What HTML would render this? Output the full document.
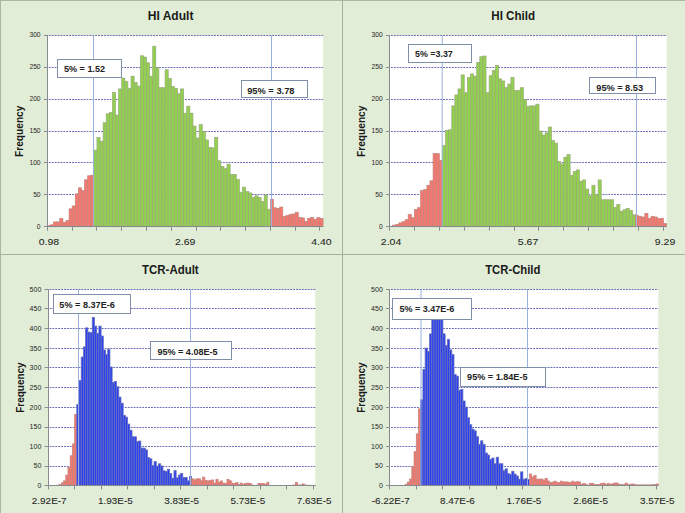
<!DOCTYPE html>
<html><head><meta charset="utf-8"><style>
html,body{margin:0;padding:0;background:#e1edd6;}
svg{display:block;font-family:"Liberation Sans", sans-serif;}
</style></head><body>
<svg width="685" height="513" viewBox="0 0 685 513">
<rect x="0" y="0" width="685" height="513" fill="#e1edd6"/>
<rect x="47.40" y="35.50" width="275.63" height="191.20" fill="#fff"/>
<line x1="45.90" y1="194.50" x2="323.03" y2="194.50" stroke="#6a6db8" stroke-width="1" stroke-dasharray="1.9 1"/>
<line x1="45.90" y1="162.50" x2="323.03" y2="162.50" stroke="#6a6db8" stroke-width="1" stroke-dasharray="1.9 1"/>
<line x1="45.90" y1="131.50" x2="323.03" y2="131.50" stroke="#6a6db8" stroke-width="1" stroke-dasharray="1.9 1"/>
<line x1="45.90" y1="99.50" x2="323.03" y2="99.50" stroke="#6a6db8" stroke-width="1" stroke-dasharray="1.9 1"/>
<line x1="45.90" y1="67.50" x2="323.03" y2="67.50" stroke="#6a6db8" stroke-width="1" stroke-dasharray="1.9 1"/>
<line x1="45.90" y1="35.50" x2="323.03" y2="35.50" stroke="#6a6db8" stroke-width="1" stroke-dasharray="1.9 1"/>
<rect x="47.40" y="225.42" width="3.10" height="1.28" fill="#f47870" stroke="#c0857c" stroke-width="0.7"/>
<rect x="50.50" y="224.79" width="3.10" height="1.91" fill="#f47870" stroke="#c0857c" stroke-width="0.7"/>
<rect x="53.59" y="221.92" width="3.10" height="4.78" fill="#f47870" stroke="#c0857c" stroke-width="0.7"/>
<rect x="56.69" y="221.92" width="3.10" height="4.78" fill="#f47870" stroke="#c0857c" stroke-width="0.7"/>
<rect x="59.79" y="218.41" width="3.10" height="8.29" fill="#f47870" stroke="#c0857c" stroke-width="0.7"/>
<rect x="62.88" y="222.24" width="3.10" height="4.46" fill="#f47870" stroke="#c0857c" stroke-width="0.7"/>
<rect x="65.98" y="220.58" width="3.10" height="6.12" fill="#f47870" stroke="#c0857c" stroke-width="0.7"/>
<rect x="69.08" y="208.84" width="3.10" height="17.86" fill="#f47870" stroke="#c0857c" stroke-width="0.7"/>
<rect x="72.18" y="205.91" width="3.10" height="20.79" fill="#f47870" stroke="#c0857c" stroke-width="0.7"/>
<rect x="75.27" y="193.85" width="3.10" height="32.85" fill="#f47870" stroke="#c0857c" stroke-width="0.7"/>
<rect x="78.37" y="187.79" width="3.10" height="38.91" fill="#f47870" stroke="#c0857c" stroke-width="0.7"/>
<rect x="81.47" y="190.60" width="3.10" height="36.10" fill="#f47870" stroke="#c0857c" stroke-width="0.7"/>
<rect x="84.56" y="179.76" width="3.10" height="46.94" fill="#f47870" stroke="#c0857c" stroke-width="0.7"/>
<rect x="87.66" y="175.80" width="3.10" height="50.90" fill="#f47870" stroke="#c0857c" stroke-width="0.7"/>
<rect x="90.76" y="175.17" width="3.10" height="51.53" fill="#f47870" stroke="#c0857c" stroke-width="0.7"/>
<rect x="93.85" y="150.16" width="3.10" height="76.54" fill="#92d050" stroke="#9aa878" stroke-width="0.7"/>
<rect x="96.95" y="137.41" width="3.10" height="89.29" fill="#92d050" stroke="#9aa878" stroke-width="0.7"/>
<rect x="100.05" y="141.23" width="3.10" height="85.47" fill="#92d050" stroke="#9aa878" stroke-width="0.7"/>
<rect x="103.15" y="122.74" width="3.10" height="103.96" fill="#92d050" stroke="#9aa878" stroke-width="0.7"/>
<rect x="106.24" y="113.81" width="3.10" height="112.89" fill="#92d050" stroke="#9aa878" stroke-width="0.7"/>
<rect x="109.34" y="112.53" width="3.10" height="114.17" fill="#92d050" stroke="#9aa878" stroke-width="0.7"/>
<rect x="112.44" y="92.38" width="3.10" height="134.32" fill="#92d050" stroke="#9aa878" stroke-width="0.7"/>
<rect x="115.53" y="115.08" width="3.10" height="111.62" fill="#92d050" stroke="#9aa878" stroke-width="0.7"/>
<rect x="118.63" y="88.94" width="3.10" height="137.76" fill="#92d050" stroke="#9aa878" stroke-width="0.7"/>
<rect x="121.73" y="78.09" width="3.10" height="148.61" fill="#92d050" stroke="#9aa878" stroke-width="0.7"/>
<rect x="124.82" y="81.28" width="3.10" height="145.42" fill="#92d050" stroke="#9aa878" stroke-width="0.7"/>
<rect x="127.92" y="88.30" width="3.10" height="138.40" fill="#92d050" stroke="#9aa878" stroke-width="0.7"/>
<rect x="131.02" y="76.18" width="3.10" height="150.52" fill="#92d050" stroke="#9aa878" stroke-width="0.7"/>
<rect x="134.12" y="82.56" width="3.10" height="144.14" fill="#92d050" stroke="#9aa878" stroke-width="0.7"/>
<rect x="137.21" y="86.07" width="3.10" height="140.63" fill="#92d050" stroke="#9aa878" stroke-width="0.7"/>
<rect x="140.31" y="55.77" width="3.10" height="170.93" fill="#92d050" stroke="#9aa878" stroke-width="0.7"/>
<rect x="143.41" y="57.05" width="3.10" height="169.65" fill="#92d050" stroke="#9aa878" stroke-width="0.7"/>
<rect x="146.50" y="62.79" width="3.10" height="163.91" fill="#92d050" stroke="#9aa878" stroke-width="0.7"/>
<rect x="149.60" y="76.18" width="3.10" height="150.52" fill="#92d050" stroke="#9aa878" stroke-width="0.7"/>
<rect x="152.70" y="46.20" width="3.10" height="180.50" fill="#92d050" stroke="#9aa878" stroke-width="0.7"/>
<rect x="155.79" y="67.89" width="3.10" height="158.81" fill="#92d050" stroke="#9aa878" stroke-width="0.7"/>
<rect x="158.89" y="87.66" width="3.10" height="139.04" fill="#92d050" stroke="#9aa878" stroke-width="0.7"/>
<rect x="161.99" y="87.66" width="3.10" height="139.04" fill="#92d050" stroke="#9aa878" stroke-width="0.7"/>
<rect x="165.09" y="69.80" width="3.10" height="156.90" fill="#92d050" stroke="#9aa878" stroke-width="0.7"/>
<rect x="168.18" y="78.48" width="3.10" height="148.22" fill="#92d050" stroke="#9aa878" stroke-width="0.7"/>
<rect x="171.28" y="86.38" width="3.10" height="140.32" fill="#92d050" stroke="#9aa878" stroke-width="0.7"/>
<rect x="174.38" y="88.30" width="3.10" height="138.40" fill="#92d050" stroke="#9aa878" stroke-width="0.7"/>
<rect x="177.47" y="93.72" width="3.10" height="132.98" fill="#92d050" stroke="#9aa878" stroke-width="0.7"/>
<rect x="180.57" y="88.94" width="3.10" height="137.76" fill="#92d050" stroke="#9aa878" stroke-width="0.7"/>
<rect x="183.67" y="113.17" width="3.10" height="113.53" fill="#92d050" stroke="#9aa878" stroke-width="0.7"/>
<rect x="186.77" y="106.16" width="3.10" height="120.54" fill="#92d050" stroke="#9aa878" stroke-width="0.7"/>
<rect x="189.86" y="113.17" width="3.10" height="113.53" fill="#92d050" stroke="#9aa878" stroke-width="0.7"/>
<rect x="192.96" y="126.12" width="3.10" height="100.58" fill="#92d050" stroke="#9aa878" stroke-width="0.7"/>
<rect x="196.06" y="138.05" width="3.10" height="88.65" fill="#92d050" stroke="#9aa878" stroke-width="0.7"/>
<rect x="199.15" y="124.65" width="3.10" height="102.05" fill="#92d050" stroke="#9aa878" stroke-width="0.7"/>
<rect x="202.25" y="131.67" width="3.10" height="95.03" fill="#92d050" stroke="#9aa878" stroke-width="0.7"/>
<rect x="205.35" y="139.96" width="3.10" height="86.74" fill="#92d050" stroke="#9aa878" stroke-width="0.7"/>
<rect x="208.44" y="147.36" width="3.10" height="79.34" fill="#92d050" stroke="#9aa878" stroke-width="0.7"/>
<rect x="211.54" y="147.87" width="3.10" height="78.83" fill="#92d050" stroke="#9aa878" stroke-width="0.7"/>
<rect x="214.64" y="137.41" width="3.10" height="89.29" fill="#92d050" stroke="#9aa878" stroke-width="0.7"/>
<rect x="217.74" y="160.75" width="3.10" height="65.95" fill="#92d050" stroke="#9aa878" stroke-width="0.7"/>
<rect x="220.83" y="166.43" width="3.10" height="60.27" fill="#92d050" stroke="#9aa878" stroke-width="0.7"/>
<rect x="223.93" y="168.66" width="3.10" height="58.04" fill="#92d050" stroke="#9aa878" stroke-width="0.7"/>
<rect x="227.03" y="164.20" width="3.10" height="62.50" fill="#92d050" stroke="#9aa878" stroke-width="0.7"/>
<rect x="230.12" y="174.40" width="3.10" height="52.30" fill="#92d050" stroke="#9aa878" stroke-width="0.7"/>
<rect x="233.22" y="174.40" width="3.10" height="52.30" fill="#92d050" stroke="#9aa878" stroke-width="0.7"/>
<rect x="236.32" y="179.50" width="3.10" height="47.20" fill="#92d050" stroke="#9aa878" stroke-width="0.7"/>
<rect x="239.41" y="192.26" width="3.10" height="34.44" fill="#92d050" stroke="#9aa878" stroke-width="0.7"/>
<rect x="242.51" y="187.16" width="3.10" height="39.54" fill="#92d050" stroke="#9aa878" stroke-width="0.7"/>
<rect x="245.61" y="191.62" width="3.10" height="35.08" fill="#92d050" stroke="#9aa878" stroke-width="0.7"/>
<rect x="248.71" y="192.90" width="3.10" height="33.80" fill="#92d050" stroke="#9aa878" stroke-width="0.7"/>
<rect x="251.80" y="197.36" width="3.10" height="29.34" fill="#92d050" stroke="#9aa878" stroke-width="0.7"/>
<rect x="254.90" y="195.77" width="3.10" height="30.93" fill="#92d050" stroke="#9aa878" stroke-width="0.7"/>
<rect x="258.00" y="197.36" width="3.10" height="29.34" fill="#92d050" stroke="#9aa878" stroke-width="0.7"/>
<rect x="261.09" y="201.51" width="3.10" height="25.19" fill="#92d050" stroke="#9aa878" stroke-width="0.7"/>
<rect x="264.19" y="195.07" width="3.10" height="31.63" fill="#92d050" stroke="#9aa878" stroke-width="0.7"/>
<rect x="267.29" y="209.29" width="3.10" height="17.41" fill="#92d050" stroke="#9aa878" stroke-width="0.7"/>
<rect x="270.38" y="199.27" width="3.10" height="27.43" fill="#f47870" stroke="#c0857c" stroke-width="0.7"/>
<rect x="273.48" y="207.76" width="3.10" height="18.94" fill="#f47870" stroke="#c0857c" stroke-width="0.7"/>
<rect x="276.58" y="208.52" width="3.10" height="18.18" fill="#f47870" stroke="#c0857c" stroke-width="0.7"/>
<rect x="279.68" y="207.06" width="3.10" height="19.64" fill="#f47870" stroke="#c0857c" stroke-width="0.7"/>
<rect x="282.77" y="216.62" width="3.10" height="10.08" fill="#f47870" stroke="#c0857c" stroke-width="0.7"/>
<rect x="285.87" y="215.41" width="3.10" height="11.29" fill="#f47870" stroke="#c0857c" stroke-width="0.7"/>
<rect x="288.97" y="214.58" width="3.10" height="12.12" fill="#f47870" stroke="#c0857c" stroke-width="0.7"/>
<rect x="292.06" y="213.94" width="3.10" height="12.76" fill="#f47870" stroke="#c0857c" stroke-width="0.7"/>
<rect x="295.16" y="212.29" width="3.10" height="14.41" fill="#f47870" stroke="#c0857c" stroke-width="0.7"/>
<rect x="298.26" y="217.39" width="3.10" height="9.31" fill="#f47870" stroke="#c0857c" stroke-width="0.7"/>
<rect x="301.35" y="217.90" width="3.10" height="8.80" fill="#f47870" stroke="#c0857c" stroke-width="0.7"/>
<rect x="304.45" y="221.28" width="3.10" height="5.42" fill="#f47870" stroke="#c0857c" stroke-width="0.7"/>
<rect x="307.55" y="218.41" width="3.10" height="8.29" fill="#f47870" stroke="#c0857c" stroke-width="0.7"/>
<rect x="310.64" y="217.58" width="3.10" height="9.12" fill="#f47870" stroke="#c0857c" stroke-width="0.7"/>
<rect x="313.74" y="219.37" width="3.10" height="7.33" fill="#f47870" stroke="#c0857c" stroke-width="0.7"/>
<rect x="316.84" y="217.58" width="3.10" height="9.12" fill="#f47870" stroke="#c0857c" stroke-width="0.7"/>
<rect x="319.94" y="218.41" width="3.10" height="8.29" fill="#f47870" stroke="#c0857c" stroke-width="0.7"/>
<line x1="47.50" y1="35.50" x2="47.50" y2="226.50" stroke="#888a92" stroke-width="1"/>
<line x1="47.50" y1="226.50" x2="323.03" y2="226.50" stroke="#888a92" stroke-width="1"/>
<line x1="43.90" y1="226.50" x2="47.40" y2="226.50" stroke="#888a92" stroke-width="1"/>
<text x="40.60" y="229.30" font-size="6.7" text-anchor="end" fill="#262626">0</text>
<line x1="43.90" y1="194.50" x2="47.40" y2="194.50" stroke="#888a92" stroke-width="1"/>
<text x="40.60" y="197.30" font-size="6.7" text-anchor="end" fill="#262626">50</text>
<line x1="43.90" y1="162.50" x2="47.40" y2="162.50" stroke="#888a92" stroke-width="1"/>
<text x="40.60" y="165.30" font-size="6.7" text-anchor="end" fill="#262626">100</text>
<line x1="43.90" y1="131.50" x2="47.40" y2="131.50" stroke="#888a92" stroke-width="1"/>
<text x="40.60" y="133.30" font-size="6.7" text-anchor="end" fill="#262626">150</text>
<line x1="43.90" y1="99.50" x2="47.40" y2="99.50" stroke="#888a92" stroke-width="1"/>
<text x="40.60" y="101.30" font-size="6.7" text-anchor="end" fill="#262626">200</text>
<line x1="43.90" y1="67.50" x2="47.40" y2="67.50" stroke="#888a92" stroke-width="1"/>
<text x="40.60" y="69.30" font-size="6.7" text-anchor="end" fill="#262626">250</text>
<line x1="43.90" y1="35.50" x2="47.40" y2="35.50" stroke="#888a92" stroke-width="1"/>
<text x="40.60" y="37.30" font-size="6.7" text-anchor="end" fill="#262626">300</text>
<line x1="47.50" y1="226.70" x2="47.50" y2="230.70" stroke="#888a92" stroke-width="1"/>
<line x1="72.50" y1="226.70" x2="72.50" y2="230.70" stroke="#888a92" stroke-width="1"/>
<line x1="96.50" y1="226.70" x2="96.50" y2="230.70" stroke="#888a92" stroke-width="1"/>
<line x1="121.50" y1="226.70" x2="121.50" y2="230.70" stroke="#888a92" stroke-width="1"/>
<line x1="146.50" y1="226.70" x2="146.50" y2="230.70" stroke="#888a92" stroke-width="1"/>
<line x1="171.50" y1="226.70" x2="171.50" y2="230.70" stroke="#888a92" stroke-width="1"/>
<line x1="196.50" y1="226.70" x2="196.50" y2="230.70" stroke="#888a92" stroke-width="1"/>
<line x1="220.50" y1="226.70" x2="220.50" y2="230.70" stroke="#888a92" stroke-width="1"/>
<line x1="245.50" y1="226.70" x2="245.50" y2="230.70" stroke="#888a92" stroke-width="1"/>
<line x1="270.50" y1="226.70" x2="270.50" y2="230.70" stroke="#888a92" stroke-width="1"/>
<line x1="295.50" y1="226.70" x2="295.50" y2="230.70" stroke="#888a92" stroke-width="1"/>
<line x1="319.50" y1="226.70" x2="319.50" y2="230.70" stroke="#888a92" stroke-width="1"/>
<text x="48.95" y="245.00" font-size="9.9" text-anchor="middle" fill="#262626" stroke="#262626" stroke-width="0.08" textLength="20.40" lengthAdjust="spacingAndGlyphs">0.98</text>
<text x="185.22" y="245.00" font-size="9.9" text-anchor="middle" fill="#262626" stroke="#262626" stroke-width="0.08" textLength="20.40" lengthAdjust="spacingAndGlyphs">2.69</text>
<text x="321.48" y="245.00" font-size="9.9" text-anchor="middle" fill="#262626" stroke="#262626" stroke-width="0.08" textLength="20.40" lengthAdjust="spacingAndGlyphs">4.40</text>
<line x1="93.50" y1="35.50" x2="93.50" y2="226.70" stroke="#98b0de" stroke-width="1"/>
<line x1="271.50" y1="35.50" x2="271.50" y2="226.70" stroke="#98b0de" stroke-width="1"/>
<rect x="57.50" y="59.50" width="64.00" height="18.00" fill="#fff" stroke="#7f8fa8" stroke-width="1"/>
<text x="63.90" y="72.30" font-size="9.5" font-weight="bold" fill="#222" textLength="41.30" lengthAdjust="spacingAndGlyphs">5% = 1.52</text>
<rect x="241.50" y="80.50" width="66.00" height="17.00" fill="#fff" stroke="#7f8fa8" stroke-width="1"/>
<text x="247.20" y="93.70" font-size="9.5" font-weight="bold" fill="#222" textLength="47.30" lengthAdjust="spacingAndGlyphs">95% = 3.78</text>
<text x="170.60" y="19.60" font-size="12" font-weight="bold" text-anchor="middle" fill="#1a1a1a" textLength="45.8" lengthAdjust="spacingAndGlyphs">HI Adult</text>
<text transform="translate(23.40,131.30) rotate(-90)" font-size="10.6" font-weight="bold" text-anchor="middle" fill="#1a1a1a" textLength="51.5" lengthAdjust="spacingAndGlyphs">Frequency</text>
<rect x="389.50" y="35.50" width="277.15" height="191.20" fill="#fff"/>
<line x1="388.00" y1="194.50" x2="666.65" y2="194.50" stroke="#6a6db8" stroke-width="1" stroke-dasharray="1.9 1"/>
<line x1="388.00" y1="162.50" x2="666.65" y2="162.50" stroke="#6a6db8" stroke-width="1" stroke-dasharray="1.9 1"/>
<line x1="388.00" y1="131.50" x2="666.65" y2="131.50" stroke="#6a6db8" stroke-width="1" stroke-dasharray="1.9 1"/>
<line x1="388.00" y1="99.50" x2="666.65" y2="99.50" stroke="#6a6db8" stroke-width="1" stroke-dasharray="1.9 1"/>
<line x1="388.00" y1="67.50" x2="666.65" y2="67.50" stroke="#6a6db8" stroke-width="1" stroke-dasharray="1.9 1"/>
<line x1="388.00" y1="35.50" x2="666.65" y2="35.50" stroke="#6a6db8" stroke-width="1" stroke-dasharray="1.9 1"/>
<rect x="389.50" y="226.25" width="3.11" height="0.45" fill="#f47870" stroke="#c0857c" stroke-width="0.7"/>
<rect x="392.61" y="225.17" width="3.11" height="1.53" fill="#f47870" stroke="#c0857c" stroke-width="0.7"/>
<rect x="395.73" y="224.34" width="3.11" height="2.36" fill="#f47870" stroke="#c0857c" stroke-width="0.7"/>
<rect x="398.84" y="222.87" width="3.11" height="3.83" fill="#f47870" stroke="#c0857c" stroke-width="0.7"/>
<rect x="401.96" y="221.73" width="3.11" height="4.97" fill="#f47870" stroke="#c0857c" stroke-width="0.7"/>
<rect x="405.07" y="219.68" width="3.11" height="7.02" fill="#f47870" stroke="#c0857c" stroke-width="0.7"/>
<rect x="408.18" y="214.58" width="3.11" height="12.12" fill="#f47870" stroke="#c0857c" stroke-width="0.7"/>
<rect x="411.30" y="217.77" width="3.11" height="8.93" fill="#f47870" stroke="#c0857c" stroke-width="0.7"/>
<rect x="414.41" y="209.61" width="3.11" height="17.09" fill="#f47870" stroke="#c0857c" stroke-width="0.7"/>
<rect x="417.53" y="207.69" width="3.11" height="19.01" fill="#f47870" stroke="#c0857c" stroke-width="0.7"/>
<rect x="420.64" y="190.60" width="3.11" height="36.10" fill="#f47870" stroke="#c0857c" stroke-width="0.7"/>
<rect x="423.75" y="189.39" width="3.11" height="37.31" fill="#f47870" stroke="#c0857c" stroke-width="0.7"/>
<rect x="426.87" y="185.24" width="3.11" height="41.46" fill="#f47870" stroke="#c0857c" stroke-width="0.7"/>
<rect x="429.98" y="180.78" width="3.11" height="45.92" fill="#f47870" stroke="#c0857c" stroke-width="0.7"/>
<rect x="433.10" y="153.61" width="3.11" height="73.09" fill="#f47870" stroke="#c0857c" stroke-width="0.7"/>
<rect x="436.21" y="153.61" width="3.11" height="73.09" fill="#f47870" stroke="#c0857c" stroke-width="0.7"/>
<rect x="439.32" y="160.37" width="3.11" height="66.33" fill="#f47870" stroke="#c0857c" stroke-width="0.7"/>
<rect x="442.44" y="145.70" width="3.11" height="81.00" fill="#92d050" stroke="#9aa878" stroke-width="0.7"/>
<rect x="445.55" y="130.39" width="3.11" height="96.31" fill="#92d050" stroke="#9aa878" stroke-width="0.7"/>
<rect x="448.67" y="129.75" width="3.11" height="96.95" fill="#92d050" stroke="#9aa878" stroke-width="0.7"/>
<rect x="451.78" y="105.90" width="3.11" height="120.80" fill="#92d050" stroke="#9aa878" stroke-width="0.7"/>
<rect x="454.89" y="94.99" width="3.11" height="131.71" fill="#92d050" stroke="#9aa878" stroke-width="0.7"/>
<rect x="458.01" y="88.94" width="3.11" height="137.76" fill="#92d050" stroke="#9aa878" stroke-width="0.7"/>
<rect x="461.12" y="74.90" width="3.11" height="151.80" fill="#92d050" stroke="#9aa878" stroke-width="0.7"/>
<rect x="464.24" y="92.76" width="3.11" height="133.94" fill="#92d050" stroke="#9aa878" stroke-width="0.7"/>
<rect x="467.35" y="77.45" width="3.11" height="149.25" fill="#92d050" stroke="#9aa878" stroke-width="0.7"/>
<rect x="470.46" y="73.95" width="3.11" height="152.75" fill="#92d050" stroke="#9aa878" stroke-width="0.7"/>
<rect x="473.58" y="76.18" width="3.11" height="150.52" fill="#92d050" stroke="#9aa878" stroke-width="0.7"/>
<rect x="476.69" y="62.53" width="3.11" height="164.17" fill="#92d050" stroke="#9aa878" stroke-width="0.7"/>
<rect x="479.81" y="56.73" width="3.11" height="169.97" fill="#92d050" stroke="#9aa878" stroke-width="0.7"/>
<rect x="482.92" y="56.02" width="3.11" height="170.68" fill="#92d050" stroke="#9aa878" stroke-width="0.7"/>
<rect x="486.03" y="92.76" width="3.11" height="133.94" fill="#92d050" stroke="#9aa878" stroke-width="0.7"/>
<rect x="489.15" y="75.67" width="3.11" height="151.03" fill="#92d050" stroke="#9aa878" stroke-width="0.7"/>
<rect x="492.26" y="70.44" width="3.11" height="156.26" fill="#92d050" stroke="#9aa878" stroke-width="0.7"/>
<rect x="495.38" y="65.46" width="3.11" height="161.24" fill="#92d050" stroke="#9aa878" stroke-width="0.7"/>
<rect x="498.49" y="78.86" width="3.11" height="147.84" fill="#92d050" stroke="#9aa878" stroke-width="0.7"/>
<rect x="501.60" y="80.96" width="3.11" height="145.74" fill="#92d050" stroke="#9aa878" stroke-width="0.7"/>
<rect x="504.72" y="87.66" width="3.11" height="139.04" fill="#92d050" stroke="#9aa878" stroke-width="0.7"/>
<rect x="507.83" y="84.09" width="3.11" height="142.61" fill="#92d050" stroke="#9aa878" stroke-width="0.7"/>
<rect x="510.95" y="77.45" width="3.11" height="149.25" fill="#92d050" stroke="#9aa878" stroke-width="0.7"/>
<rect x="514.06" y="90.59" width="3.11" height="136.11" fill="#92d050" stroke="#9aa878" stroke-width="0.7"/>
<rect x="517.17" y="90.21" width="3.11" height="136.49" fill="#92d050" stroke="#9aa878" stroke-width="0.7"/>
<rect x="520.29" y="87.66" width="3.11" height="139.04" fill="#92d050" stroke="#9aa878" stroke-width="0.7"/>
<rect x="523.40" y="99.40" width="3.11" height="127.30" fill="#92d050" stroke="#9aa878" stroke-width="0.7"/>
<rect x="526.52" y="106.41" width="3.11" height="120.29" fill="#92d050" stroke="#9aa878" stroke-width="0.7"/>
<rect x="529.63" y="105.90" width="3.11" height="120.80" fill="#92d050" stroke="#9aa878" stroke-width="0.7"/>
<rect x="532.74" y="105.90" width="3.11" height="120.80" fill="#92d050" stroke="#9aa878" stroke-width="0.7"/>
<rect x="535.86" y="104.24" width="3.11" height="122.46" fill="#92d050" stroke="#9aa878" stroke-width="0.7"/>
<rect x="538.97" y="131.03" width="3.11" height="95.67" fill="#92d050" stroke="#9aa878" stroke-width="0.7"/>
<rect x="542.09" y="135.05" width="3.11" height="91.65" fill="#92d050" stroke="#9aa878" stroke-width="0.7"/>
<rect x="545.20" y="132.82" width="3.11" height="93.88" fill="#92d050" stroke="#9aa878" stroke-width="0.7"/>
<rect x="548.31" y="127.01" width="3.11" height="99.69" fill="#92d050" stroke="#9aa878" stroke-width="0.7"/>
<rect x="551.43" y="140.60" width="3.11" height="86.10" fill="#92d050" stroke="#9aa878" stroke-width="0.7"/>
<rect x="554.54" y="143.15" width="3.11" height="83.55" fill="#92d050" stroke="#9aa878" stroke-width="0.7"/>
<rect x="557.66" y="161.64" width="3.11" height="65.06" fill="#92d050" stroke="#9aa878" stroke-width="0.7"/>
<rect x="560.77" y="163.88" width="3.11" height="62.82" fill="#92d050" stroke="#9aa878" stroke-width="0.7"/>
<rect x="563.88" y="157.18" width="3.11" height="69.52" fill="#92d050" stroke="#9aa878" stroke-width="0.7"/>
<rect x="567.00" y="154.63" width="3.11" height="72.07" fill="#92d050" stroke="#9aa878" stroke-width="0.7"/>
<rect x="570.11" y="175.23" width="3.11" height="51.47" fill="#92d050" stroke="#9aa878" stroke-width="0.7"/>
<rect x="573.23" y="171.47" width="3.11" height="55.23" fill="#92d050" stroke="#9aa878" stroke-width="0.7"/>
<rect x="576.34" y="169.94" width="3.11" height="56.76" fill="#92d050" stroke="#9aa878" stroke-width="0.7"/>
<rect x="579.45" y="181.22" width="3.11" height="45.48" fill="#92d050" stroke="#9aa878" stroke-width="0.7"/>
<rect x="582.57" y="179.95" width="3.11" height="46.75" fill="#92d050" stroke="#9aa878" stroke-width="0.7"/>
<rect x="585.68" y="189.07" width="3.11" height="37.63" fill="#92d050" stroke="#9aa878" stroke-width="0.7"/>
<rect x="588.80" y="195.77" width="3.11" height="30.93" fill="#92d050" stroke="#9aa878" stroke-width="0.7"/>
<rect x="591.91" y="185.24" width="3.11" height="41.46" fill="#92d050" stroke="#9aa878" stroke-width="0.7"/>
<rect x="595.02" y="194.68" width="3.11" height="32.02" fill="#92d050" stroke="#9aa878" stroke-width="0.7"/>
<rect x="598.14" y="179.95" width="3.11" height="46.75" fill="#92d050" stroke="#9aa878" stroke-width="0.7"/>
<rect x="601.25" y="199.78" width="3.11" height="26.92" fill="#92d050" stroke="#9aa878" stroke-width="0.7"/>
<rect x="604.37" y="199.78" width="3.11" height="26.92" fill="#92d050" stroke="#9aa878" stroke-width="0.7"/>
<rect x="607.48" y="199.78" width="3.11" height="26.92" fill="#92d050" stroke="#9aa878" stroke-width="0.7"/>
<rect x="610.59" y="199.78" width="3.11" height="26.92" fill="#92d050" stroke="#9aa878" stroke-width="0.7"/>
<rect x="613.71" y="207.44" width="3.11" height="19.26" fill="#92d050" stroke="#9aa878" stroke-width="0.7"/>
<rect x="616.82" y="204.38" width="3.11" height="22.32" fill="#92d050" stroke="#9aa878" stroke-width="0.7"/>
<rect x="619.94" y="211.20" width="3.11" height="15.50" fill="#92d050" stroke="#9aa878" stroke-width="0.7"/>
<rect x="623.05" y="209.67" width="3.11" height="17.03" fill="#92d050" stroke="#9aa878" stroke-width="0.7"/>
<rect x="626.16" y="208.46" width="3.11" height="18.24" fill="#92d050" stroke="#9aa878" stroke-width="0.7"/>
<rect x="629.28" y="210.50" width="3.11" height="16.20" fill="#92d050" stroke="#9aa878" stroke-width="0.7"/>
<rect x="632.39" y="214.77" width="3.11" height="11.93" fill="#92d050" stroke="#9aa878" stroke-width="0.7"/>
<rect x="635.51" y="215.22" width="3.11" height="11.48" fill="#f47870" stroke="#c0857c" stroke-width="0.7"/>
<rect x="638.62" y="216.56" width="3.11" height="10.14" fill="#f47870" stroke="#c0857c" stroke-width="0.7"/>
<rect x="641.73" y="217.01" width="3.11" height="9.69" fill="#f47870" stroke="#c0857c" stroke-width="0.7"/>
<rect x="644.85" y="213.31" width="3.11" height="13.39" fill="#f47870" stroke="#c0857c" stroke-width="0.7"/>
<rect x="647.96" y="218.28" width="3.11" height="8.42" fill="#f47870" stroke="#c0857c" stroke-width="0.7"/>
<rect x="651.08" y="216.30" width="3.11" height="10.40" fill="#f47870" stroke="#c0857c" stroke-width="0.7"/>
<rect x="654.19" y="217.01" width="3.11" height="9.69" fill="#f47870" stroke="#c0857c" stroke-width="0.7"/>
<rect x="657.30" y="218.60" width="3.11" height="8.10" fill="#f47870" stroke="#c0857c" stroke-width="0.7"/>
<rect x="660.42" y="218.28" width="3.11" height="8.42" fill="#f47870" stroke="#c0857c" stroke-width="0.7"/>
<rect x="663.53" y="223.38" width="3.11" height="3.32" fill="#f47870" stroke="#c0857c" stroke-width="0.7"/>
<line x1="389.50" y1="35.50" x2="389.50" y2="226.50" stroke="#888a92" stroke-width="1"/>
<line x1="389.50" y1="226.50" x2="666.65" y2="226.50" stroke="#888a92" stroke-width="1"/>
<line x1="386.00" y1="226.50" x2="389.50" y2="226.50" stroke="#888a92" stroke-width="1"/>
<text x="382.70" y="229.30" font-size="6.7" text-anchor="end" fill="#262626">0</text>
<line x1="386.00" y1="194.50" x2="389.50" y2="194.50" stroke="#888a92" stroke-width="1"/>
<text x="382.70" y="197.30" font-size="6.7" text-anchor="end" fill="#262626">50</text>
<line x1="386.00" y1="162.50" x2="389.50" y2="162.50" stroke="#888a92" stroke-width="1"/>
<text x="382.70" y="165.30" font-size="6.7" text-anchor="end" fill="#262626">100</text>
<line x1="386.00" y1="131.50" x2="389.50" y2="131.50" stroke="#888a92" stroke-width="1"/>
<text x="382.70" y="133.30" font-size="6.7" text-anchor="end" fill="#262626">150</text>
<line x1="386.00" y1="99.50" x2="389.50" y2="99.50" stroke="#888a92" stroke-width="1"/>
<text x="382.70" y="101.30" font-size="6.7" text-anchor="end" fill="#262626">200</text>
<line x1="386.00" y1="67.50" x2="389.50" y2="67.50" stroke="#888a92" stroke-width="1"/>
<text x="382.70" y="69.30" font-size="6.7" text-anchor="end" fill="#262626">250</text>
<line x1="386.00" y1="35.50" x2="389.50" y2="35.50" stroke="#888a92" stroke-width="1"/>
<text x="382.70" y="37.30" font-size="6.7" text-anchor="end" fill="#262626">300</text>
<line x1="389.50" y1="226.70" x2="389.50" y2="230.70" stroke="#888a92" stroke-width="1"/>
<line x1="414.50" y1="226.70" x2="414.50" y2="230.70" stroke="#888a92" stroke-width="1"/>
<line x1="439.50" y1="226.70" x2="439.50" y2="230.70" stroke="#888a92" stroke-width="1"/>
<line x1="464.50" y1="226.70" x2="464.50" y2="230.70" stroke="#888a92" stroke-width="1"/>
<line x1="489.50" y1="226.70" x2="489.50" y2="230.70" stroke="#888a92" stroke-width="1"/>
<line x1="514.50" y1="226.70" x2="514.50" y2="230.70" stroke="#888a92" stroke-width="1"/>
<line x1="538.50" y1="226.70" x2="538.50" y2="230.70" stroke="#888a92" stroke-width="1"/>
<line x1="563.50" y1="226.70" x2="563.50" y2="230.70" stroke="#888a92" stroke-width="1"/>
<line x1="588.50" y1="226.70" x2="588.50" y2="230.70" stroke="#888a92" stroke-width="1"/>
<line x1="613.50" y1="226.70" x2="613.50" y2="230.70" stroke="#888a92" stroke-width="1"/>
<line x1="638.50" y1="226.70" x2="638.50" y2="230.70" stroke="#888a92" stroke-width="1"/>
<line x1="663.50" y1="226.70" x2="663.50" y2="230.70" stroke="#888a92" stroke-width="1"/>
<text x="391.06" y="245.00" font-size="9.9" text-anchor="middle" fill="#262626" stroke="#262626" stroke-width="0.08" textLength="20.40" lengthAdjust="spacingAndGlyphs">2.04</text>
<text x="528.07" y="245.00" font-size="9.9" text-anchor="middle" fill="#262626" stroke="#262626" stroke-width="0.08" textLength="20.40" lengthAdjust="spacingAndGlyphs">5.67</text>
<text x="665.09" y="245.00" font-size="9.9" text-anchor="middle" fill="#262626" stroke="#262626" stroke-width="0.08" textLength="20.40" lengthAdjust="spacingAndGlyphs">9.29</text>
<line x1="442.20" y1="35.50" x2="442.20" y2="226.70" stroke="#98b0de" stroke-width="1"/>
<line x1="636.50" y1="35.50" x2="636.50" y2="226.70" stroke="#98b0de" stroke-width="1"/>
<rect x="408.50" y="44.50" width="63.00" height="18.00" fill="#fff" stroke="#7f8fa8" stroke-width="1"/>
<text x="415.10" y="57.00" font-size="9.5" font-weight="bold" fill="#222" textLength="37.70" lengthAdjust="spacingAndGlyphs">5% =3.37</text>
<rect x="589.50" y="77.50" width="66.00" height="16.00" fill="#fff" stroke="#7f8fa8" stroke-width="1"/>
<text x="596.30" y="90.50" font-size="9.5" font-weight="bold" fill="#222" textLength="46.70" lengthAdjust="spacingAndGlyphs">95% = 8.53</text>
<text x="513.20" y="19.60" font-size="12" font-weight="bold" text-anchor="middle" fill="#1a1a1a" textLength="43.8" lengthAdjust="spacingAndGlyphs">HI Child</text>
<text transform="translate(365.00,131.30) rotate(-90)" font-size="10.6" font-weight="bold" text-anchor="middle" fill="#1a1a1a" textLength="51.5" lengthAdjust="spacingAndGlyphs">Frequency</text>
<rect x="48.10" y="289.50" width="267.17" height="195.95" fill="#fff"/>
<line x1="46.60" y1="466.50" x2="315.27" y2="466.50" stroke="#6a6db8" stroke-width="1" stroke-dasharray="1.9 1"/>
<line x1="46.60" y1="446.50" x2="315.27" y2="446.50" stroke="#6a6db8" stroke-width="1" stroke-dasharray="1.9 1"/>
<line x1="46.60" y1="427.50" x2="315.27" y2="427.50" stroke="#6a6db8" stroke-width="1" stroke-dasharray="1.9 1"/>
<line x1="46.60" y1="407.50" x2="315.27" y2="407.50" stroke="#6a6db8" stroke-width="1" stroke-dasharray="1.9 1"/>
<line x1="46.60" y1="387.50" x2="315.27" y2="387.50" stroke="#6a6db8" stroke-width="1" stroke-dasharray="1.9 1"/>
<line x1="46.60" y1="367.50" x2="315.27" y2="367.50" stroke="#6a6db8" stroke-width="1" stroke-dasharray="1.9 1"/>
<line x1="46.60" y1="348.50" x2="315.27" y2="348.50" stroke="#6a6db8" stroke-width="1" stroke-dasharray="1.9 1"/>
<line x1="46.60" y1="328.50" x2="315.27" y2="328.50" stroke="#6a6db8" stroke-width="1" stroke-dasharray="1.9 1"/>
<line x1="46.60" y1="308.50" x2="315.27" y2="308.50" stroke="#6a6db8" stroke-width="1" stroke-dasharray="1.9 1"/>
<line x1="46.60" y1="289.50" x2="315.27" y2="289.50" stroke="#6a6db8" stroke-width="1" stroke-dasharray="1.9 1"/>
<rect x="56.93" y="485.14" width="2.21" height="0.31" fill="#f47870" stroke="#c0857c" stroke-width="0.7"/>
<rect x="59.14" y="484.55" width="2.21" height="0.90" fill="#f47870" stroke="#c0857c" stroke-width="0.7"/>
<rect x="61.35" y="482.86" width="2.21" height="2.59" fill="#f47870" stroke="#c0857c" stroke-width="0.7"/>
<rect x="63.56" y="480.87" width="2.21" height="4.58" fill="#f47870" stroke="#c0857c" stroke-width="0.7"/>
<rect x="65.76" y="475.07" width="2.21" height="10.38" fill="#f47870" stroke="#c0857c" stroke-width="0.7"/>
<rect x="67.97" y="467.24" width="2.21" height="18.21" fill="#f47870" stroke="#c0857c" stroke-width="0.7"/>
<rect x="70.18" y="455.76" width="2.21" height="29.69" fill="#f47870" stroke="#c0857c" stroke-width="0.7"/>
<rect x="72.39" y="443.93" width="2.21" height="41.52" fill="#f47870" stroke="#c0857c" stroke-width="0.7"/>
<rect x="74.60" y="414.55" width="2.21" height="70.90" fill="#f47870" stroke="#c0857c" stroke-width="0.7"/>
<rect x="76.80" y="404.45" width="2.21" height="81.00" fill="#2a40f0" stroke="#6870bc" stroke-width="0.8"/>
<rect x="79.01" y="380.63" width="2.21" height="104.82" fill="#2a40f0" stroke="#6870bc" stroke-width="0.8"/>
<rect x="81.22" y="357.05" width="2.21" height="128.40" fill="#2a40f0" stroke="#6870bc" stroke-width="0.8"/>
<rect x="83.43" y="346.94" width="2.21" height="138.51" fill="#2a40f0" stroke="#6870bc" stroke-width="0.8"/>
<rect x="85.64" y="327.83" width="2.21" height="157.62" fill="#2a40f0" stroke="#6870bc" stroke-width="0.8"/>
<rect x="87.84" y="332.10" width="2.21" height="153.35" fill="#2a40f0" stroke="#6870bc" stroke-width="0.8"/>
<rect x="90.05" y="332.69" width="2.21" height="152.76" fill="#2a40f0" stroke="#6870bc" stroke-width="0.8"/>
<rect x="92.26" y="317.49" width="2.21" height="167.96" fill="#2a40f0" stroke="#6870bc" stroke-width="0.8"/>
<rect x="94.47" y="326.11" width="2.21" height="159.34" fill="#2a40f0" stroke="#6870bc" stroke-width="0.8"/>
<rect x="96.68" y="333.47" width="2.21" height="151.98" fill="#2a40f0" stroke="#6870bc" stroke-width="0.8"/>
<rect x="98.88" y="326.11" width="2.21" height="159.34" fill="#2a40f0" stroke="#6870bc" stroke-width="0.8"/>
<rect x="101.09" y="336.06" width="2.21" height="149.39" fill="#2a40f0" stroke="#6870bc" stroke-width="0.8"/>
<rect x="103.30" y="350.00" width="2.21" height="135.45" fill="#2a40f0" stroke="#6870bc" stroke-width="0.8"/>
<rect x="105.51" y="354.62" width="2.21" height="130.83" fill="#2a40f0" stroke="#6870bc" stroke-width="0.8"/>
<rect x="107.72" y="349.33" width="2.21" height="136.12" fill="#2a40f0" stroke="#6870bc" stroke-width="0.8"/>
<rect x="109.92" y="366.96" width="2.21" height="118.49" fill="#2a40f0" stroke="#6870bc" stroke-width="0.8"/>
<rect x="112.13" y="382.43" width="2.21" height="103.02" fill="#2a40f0" stroke="#6870bc" stroke-width="0.8"/>
<rect x="114.34" y="381.49" width="2.21" height="103.96" fill="#2a40f0" stroke="#6870bc" stroke-width="0.8"/>
<rect x="116.55" y="386.74" width="2.21" height="98.71" fill="#2a40f0" stroke="#6870bc" stroke-width="0.8"/>
<rect x="118.76" y="397.12" width="2.21" height="88.33" fill="#2a40f0" stroke="#6870bc" stroke-width="0.8"/>
<rect x="120.96" y="403.19" width="2.21" height="82.26" fill="#2a40f0" stroke="#6870bc" stroke-width="0.8"/>
<rect x="123.17" y="415.34" width="2.21" height="70.11" fill="#2a40f0" stroke="#6870bc" stroke-width="0.8"/>
<rect x="125.38" y="417.14" width="2.21" height="68.31" fill="#2a40f0" stroke="#6870bc" stroke-width="0.8"/>
<rect x="127.59" y="424.07" width="2.21" height="61.38" fill="#2a40f0" stroke="#6870bc" stroke-width="0.8"/>
<rect x="129.80" y="430.22" width="2.21" height="55.23" fill="#2a40f0" stroke="#6870bc" stroke-width="0.8"/>
<rect x="132.00" y="436.76" width="2.21" height="48.69" fill="#2a40f0" stroke="#6870bc" stroke-width="0.8"/>
<rect x="134.21" y="436.80" width="2.21" height="48.65" fill="#2a40f0" stroke="#6870bc" stroke-width="0.8"/>
<rect x="136.42" y="441.58" width="2.21" height="43.87" fill="#2a40f0" stroke="#6870bc" stroke-width="0.8"/>
<rect x="138.63" y="441.03" width="2.21" height="44.42" fill="#2a40f0" stroke="#6870bc" stroke-width="0.8"/>
<rect x="140.84" y="448.12" width="2.21" height="37.33" fill="#2a40f0" stroke="#6870bc" stroke-width="0.8"/>
<rect x="143.04" y="448.12" width="2.21" height="37.33" fill="#2a40f0" stroke="#6870bc" stroke-width="0.8"/>
<rect x="145.25" y="449.92" width="2.21" height="35.53" fill="#2a40f0" stroke="#6870bc" stroke-width="0.8"/>
<rect x="147.46" y="457.64" width="2.21" height="27.81" fill="#2a40f0" stroke="#6870bc" stroke-width="0.8"/>
<rect x="149.67" y="458.81" width="2.21" height="26.64" fill="#2a40f0" stroke="#6870bc" stroke-width="0.8"/>
<rect x="151.88" y="465.67" width="2.21" height="19.78" fill="#2a40f0" stroke="#6870bc" stroke-width="0.8"/>
<rect x="154.08" y="461.63" width="2.21" height="23.82" fill="#2a40f0" stroke="#6870bc" stroke-width="0.8"/>
<rect x="156.29" y="466.10" width="2.21" height="19.35" fill="#2a40f0" stroke="#6870bc" stroke-width="0.8"/>
<rect x="158.50" y="463.83" width="2.21" height="21.62" fill="#2a40f0" stroke="#6870bc" stroke-width="0.8"/>
<rect x="160.71" y="465.98" width="2.21" height="19.47" fill="#2a40f0" stroke="#6870bc" stroke-width="0.8"/>
<rect x="162.92" y="470.76" width="2.21" height="14.69" fill="#2a40f0" stroke="#6870bc" stroke-width="0.8"/>
<rect x="165.12" y="471.47" width="2.21" height="13.98" fill="#2a40f0" stroke="#6870bc" stroke-width="0.8"/>
<rect x="167.33" y="469.27" width="2.21" height="16.18" fill="#2a40f0" stroke="#6870bc" stroke-width="0.8"/>
<rect x="169.54" y="473.62" width="2.21" height="11.83" fill="#2a40f0" stroke="#6870bc" stroke-width="0.8"/>
<rect x="171.75" y="478.16" width="2.21" height="7.29" fill="#2a40f0" stroke="#6870bc" stroke-width="0.8"/>
<rect x="173.96" y="470.68" width="2.21" height="14.77" fill="#2a40f0" stroke="#6870bc" stroke-width="0.8"/>
<rect x="176.16" y="477.89" width="2.21" height="7.56" fill="#2a40f0" stroke="#6870bc" stroke-width="0.8"/>
<rect x="178.37" y="475.07" width="2.21" height="10.38" fill="#2a40f0" stroke="#6870bc" stroke-width="0.8"/>
<rect x="180.58" y="473.50" width="2.21" height="11.95" fill="#2a40f0" stroke="#6870bc" stroke-width="0.8"/>
<rect x="182.79" y="477.69" width="2.21" height="7.76" fill="#2a40f0" stroke="#6870bc" stroke-width="0.8"/>
<rect x="185.00" y="477.46" width="2.21" height="7.99" fill="#2a40f0" stroke="#6870bc" stroke-width="0.8"/>
<rect x="187.20" y="480.91" width="2.21" height="4.54" fill="#2a40f0" stroke="#6870bc" stroke-width="0.8"/>
<rect x="189.41" y="476.44" width="2.21" height="9.01" fill="#2a40f0" stroke="#6870bc" stroke-width="0.8"/>
<rect x="191.62" y="478.79" width="2.21" height="6.66" fill="#f47870" stroke="#c0857c" stroke-width="0.7"/>
<rect x="193.83" y="479.77" width="2.21" height="5.68" fill="#f47870" stroke="#c0857c" stroke-width="0.7"/>
<rect x="196.04" y="478.79" width="2.21" height="6.66" fill="#f47870" stroke="#c0857c" stroke-width="0.7"/>
<rect x="198.24" y="478.79" width="2.21" height="6.66" fill="#f47870" stroke="#c0857c" stroke-width="0.7"/>
<rect x="200.45" y="480.75" width="2.21" height="4.70" fill="#f47870" stroke="#c0857c" stroke-width="0.7"/>
<rect x="202.66" y="477.11" width="2.21" height="8.34" fill="#f47870" stroke="#c0857c" stroke-width="0.7"/>
<rect x="204.87" y="480.24" width="2.21" height="5.21" fill="#f47870" stroke="#c0857c" stroke-width="0.7"/>
<rect x="207.08" y="480.91" width="2.21" height="4.54" fill="#f47870" stroke="#c0857c" stroke-width="0.7"/>
<rect x="209.28" y="480.24" width="2.21" height="5.21" fill="#f47870" stroke="#c0857c" stroke-width="0.7"/>
<rect x="211.49" y="479.97" width="2.21" height="5.48" fill="#f47870" stroke="#c0857c" stroke-width="0.7"/>
<rect x="213.70" y="483.10" width="2.21" height="2.35" fill="#f47870" stroke="#c0857c" stroke-width="0.7"/>
<rect x="215.91" y="479.30" width="2.21" height="6.15" fill="#f47870" stroke="#c0857c" stroke-width="0.7"/>
<rect x="218.12" y="482.12" width="2.21" height="3.33" fill="#f47870" stroke="#c0857c" stroke-width="0.7"/>
<rect x="220.32" y="480.91" width="2.21" height="4.54" fill="#f47870" stroke="#c0857c" stroke-width="0.7"/>
<rect x="222.53" y="483.10" width="2.21" height="2.35" fill="#f47870" stroke="#c0857c" stroke-width="0.7"/>
<rect x="224.74" y="483.57" width="2.21" height="1.88" fill="#f47870" stroke="#c0857c" stroke-width="0.7"/>
<rect x="226.95" y="479.30" width="2.21" height="6.15" fill="#f47870" stroke="#c0857c" stroke-width="0.7"/>
<rect x="229.16" y="480.75" width="2.21" height="4.70" fill="#f47870" stroke="#c0857c" stroke-width="0.7"/>
<rect x="231.36" y="483.10" width="2.21" height="2.35" fill="#f47870" stroke="#c0857c" stroke-width="0.7"/>
<rect x="233.57" y="483.57" width="2.21" height="1.88" fill="#f47870" stroke="#c0857c" stroke-width="0.7"/>
<rect x="235.78" y="482.43" width="2.21" height="3.02" fill="#f47870" stroke="#c0857c" stroke-width="0.7"/>
<rect x="237.99" y="484.51" width="2.21" height="0.94" fill="#f47870" stroke="#c0857c" stroke-width="0.7"/>
<rect x="240.20" y="483.10" width="2.21" height="2.35" fill="#f47870" stroke="#c0857c" stroke-width="0.7"/>
<rect x="242.40" y="484.27" width="2.21" height="1.18" fill="#f47870" stroke="#c0857c" stroke-width="0.7"/>
<rect x="244.61" y="483.37" width="2.21" height="2.08" fill="#f47870" stroke="#c0857c" stroke-width="0.7"/>
<rect x="246.82" y="483.10" width="2.21" height="2.35" fill="#f47870" stroke="#c0857c" stroke-width="0.7"/>
<rect x="249.03" y="483.30" width="2.21" height="2.15" fill="#f47870" stroke="#c0857c" stroke-width="0.7"/>
<rect x="251.24" y="484.94" width="2.21" height="0.51" fill="#f47870" stroke="#c0857c" stroke-width="0.7"/>
<rect x="255.65" y="485.25" width="2.21" height="0.20" fill="#f47870" stroke="#c0857c" stroke-width="0.7"/>
<rect x="257.86" y="483.49" width="2.21" height="1.96" fill="#f47870" stroke="#c0857c" stroke-width="0.7"/>
<rect x="260.07" y="483.49" width="2.21" height="1.96" fill="#f47870" stroke="#c0857c" stroke-width="0.7"/>
<rect x="262.28" y="483.49" width="2.21" height="1.96" fill="#f47870" stroke="#c0857c" stroke-width="0.7"/>
<rect x="264.48" y="484.27" width="2.21" height="1.18" fill="#f47870" stroke="#c0857c" stroke-width="0.7"/>
<rect x="266.69" y="482.32" width="2.21" height="3.13" fill="#f47870" stroke="#c0857c" stroke-width="0.7"/>
<rect x="290.98" y="485.25" width="2.21" height="0.20" fill="#f47870" stroke="#c0857c" stroke-width="0.7"/>
<rect x="293.19" y="484.94" width="2.21" height="0.51" fill="#f47870" stroke="#c0857c" stroke-width="0.7"/>
<rect x="295.40" y="482.32" width="2.21" height="3.13" fill="#f47870" stroke="#c0857c" stroke-width="0.7"/>
<rect x="297.60" y="484.94" width="2.21" height="0.51" fill="#f47870" stroke="#c0857c" stroke-width="0.7"/>
<rect x="299.81" y="484.94" width="2.21" height="0.51" fill="#f47870" stroke="#c0857c" stroke-width="0.7"/>
<rect x="302.02" y="483.96" width="2.21" height="1.49" fill="#f47870" stroke="#c0857c" stroke-width="0.7"/>
<rect x="304.23" y="484.94" width="2.21" height="0.51" fill="#f47870" stroke="#c0857c" stroke-width="0.7"/>
<rect x="306.44" y="485.25" width="2.21" height="0.20" fill="#f47870" stroke="#c0857c" stroke-width="0.7"/>
<rect x="308.64" y="485.25" width="2.21" height="0.20" fill="#f47870" stroke="#c0857c" stroke-width="0.7"/>
<rect x="310.85" y="485.25" width="2.21" height="0.20" fill="#f47870" stroke="#c0857c" stroke-width="0.7"/>
<rect x="313.06" y="485.25" width="2.21" height="0.20" fill="#f47870" stroke="#c0857c" stroke-width="0.7"/>
<line x1="48.50" y1="289.50" x2="48.50" y2="485.50" stroke="#888a92" stroke-width="1"/>
<line x1="48.50" y1="485.50" x2="315.27" y2="485.50" stroke="#888a92" stroke-width="1"/>
<line x1="44.60" y1="485.50" x2="48.10" y2="485.50" stroke="#888a92" stroke-width="1"/>
<text x="41.30" y="488.11" font-size="7.0" text-anchor="end" fill="#262626">0</text>
<line x1="44.60" y1="466.50" x2="48.10" y2="466.50" stroke="#888a92" stroke-width="1"/>
<text x="41.30" y="468.47" font-size="7.0" text-anchor="end" fill="#262626">50</text>
<line x1="44.60" y1="446.50" x2="48.10" y2="446.50" stroke="#888a92" stroke-width="1"/>
<text x="41.30" y="448.83" font-size="7.0" text-anchor="end" fill="#262626">100</text>
<line x1="44.60" y1="427.50" x2="48.10" y2="427.50" stroke="#888a92" stroke-width="1"/>
<text x="41.30" y="429.19" font-size="7.0" text-anchor="end" fill="#262626">150</text>
<line x1="44.60" y1="407.50" x2="48.10" y2="407.50" stroke="#888a92" stroke-width="1"/>
<text x="41.30" y="409.55" font-size="7.0" text-anchor="end" fill="#262626">200</text>
<line x1="44.60" y1="387.50" x2="48.10" y2="387.50" stroke="#888a92" stroke-width="1"/>
<text x="41.30" y="389.91" font-size="7.0" text-anchor="end" fill="#262626">250</text>
<line x1="44.60" y1="367.50" x2="48.10" y2="367.50" stroke="#888a92" stroke-width="1"/>
<text x="41.30" y="370.27" font-size="7.0" text-anchor="end" fill="#262626">300</text>
<line x1="44.60" y1="348.50" x2="48.10" y2="348.50" stroke="#888a92" stroke-width="1"/>
<text x="41.30" y="350.63" font-size="7.0" text-anchor="end" fill="#262626">350</text>
<line x1="44.60" y1="328.50" x2="48.10" y2="328.50" stroke="#888a92" stroke-width="1"/>
<text x="41.30" y="330.99" font-size="7.0" text-anchor="end" fill="#262626">400</text>
<line x1="44.60" y1="308.50" x2="48.10" y2="308.50" stroke="#888a92" stroke-width="1"/>
<text x="41.30" y="311.35" font-size="7.0" text-anchor="end" fill="#262626">450</text>
<line x1="44.60" y1="289.50" x2="48.10" y2="289.50" stroke="#888a92" stroke-width="1"/>
<text x="41.30" y="291.71" font-size="7.0" text-anchor="end" fill="#262626">500</text>
<line x1="48.50" y1="485.45" x2="48.50" y2="489.45" stroke="#888a92" stroke-width="1"/>
<line x1="74.50" y1="485.45" x2="74.50" y2="489.45" stroke="#888a92" stroke-width="1"/>
<line x1="101.50" y1="485.45" x2="101.50" y2="489.45" stroke="#888a92" stroke-width="1"/>
<line x1="127.50" y1="485.45" x2="127.50" y2="489.45" stroke="#888a92" stroke-width="1"/>
<line x1="154.50" y1="485.45" x2="154.50" y2="489.45" stroke="#888a92" stroke-width="1"/>
<line x1="180.50" y1="485.45" x2="180.50" y2="489.45" stroke="#888a92" stroke-width="1"/>
<line x1="207.50" y1="485.45" x2="207.50" y2="489.45" stroke="#888a92" stroke-width="1"/>
<line x1="233.50" y1="485.45" x2="233.50" y2="489.45" stroke="#888a92" stroke-width="1"/>
<line x1="260.50" y1="485.45" x2="260.50" y2="489.45" stroke="#888a92" stroke-width="1"/>
<line x1="286.50" y1="485.45" x2="286.50" y2="489.45" stroke="#888a92" stroke-width="1"/>
<line x1="313.50" y1="485.45" x2="313.50" y2="489.45" stroke="#888a92" stroke-width="1"/>
<text x="49.20" y="503.50" font-size="9.9" text-anchor="middle" fill="#262626" stroke="#262626" stroke-width="0.08" textLength="34.71" lengthAdjust="spacingAndGlyphs">2.92E-7</text>
<text x="115.44" y="503.50" font-size="9.9" text-anchor="middle" fill="#262626" stroke="#262626" stroke-width="0.08" textLength="34.71" lengthAdjust="spacingAndGlyphs">1.93E-5</text>
<text x="181.68" y="503.50" font-size="9.9" text-anchor="middle" fill="#262626" stroke="#262626" stroke-width="0.08" textLength="34.71" lengthAdjust="spacingAndGlyphs">3.83E-5</text>
<text x="247.92" y="503.50" font-size="9.9" text-anchor="middle" fill="#262626" stroke="#262626" stroke-width="0.08" textLength="34.71" lengthAdjust="spacingAndGlyphs">5.73E-5</text>
<text x="314.16" y="503.50" font-size="9.9" text-anchor="middle" fill="#262626" stroke="#262626" stroke-width="0.08" textLength="34.71" lengthAdjust="spacingAndGlyphs">7.63E-5</text>
<line x1="78.50" y1="289.50" x2="78.50" y2="485.45" stroke="#98b0de" stroke-width="1"/>
<line x1="190.50" y1="289.50" x2="190.50" y2="485.45" stroke="#98b0de" stroke-width="1"/>
<rect x="53.50" y="294.50" width="77.00" height="19.00" fill="#fff" stroke="#7f8fa8" stroke-width="1"/>
<text x="59.30" y="307.80" font-size="9.5" font-weight="bold" fill="#222" textLength="55.60" lengthAdjust="spacingAndGlyphs">5% = 8.37E-6</text>
<rect x="150.50" y="341.50" width="81.00" height="18.00" fill="#fff" stroke="#7f8fa8" stroke-width="1"/>
<text x="157.40" y="354.90" font-size="9.5" font-weight="bold" fill="#222" textLength="60.20" lengthAdjust="spacingAndGlyphs">95% = 4.08E-5</text>
<text x="170.40" y="273.80" font-size="12" font-weight="bold" text-anchor="middle" fill="#1a1a1a" textLength="56.6" lengthAdjust="spacingAndGlyphs">TCR-Adult</text>
<text transform="translate(23.50,387.60) rotate(-90)" font-size="10.6" font-weight="bold" text-anchor="middle" fill="#1a1a1a" textLength="50.5" lengthAdjust="spacingAndGlyphs">Frequency</text>
<rect x="389.60" y="289.50" width="268.74" height="195.95" fill="#fff"/>
<line x1="388.10" y1="466.50" x2="658.34" y2="466.50" stroke="#6a6db8" stroke-width="1" stroke-dasharray="1.9 1"/>
<line x1="388.10" y1="446.50" x2="658.34" y2="446.50" stroke="#6a6db8" stroke-width="1" stroke-dasharray="1.9 1"/>
<line x1="388.10" y1="427.50" x2="658.34" y2="427.50" stroke="#6a6db8" stroke-width="1" stroke-dasharray="1.9 1"/>
<line x1="388.10" y1="407.50" x2="658.34" y2="407.50" stroke="#6a6db8" stroke-width="1" stroke-dasharray="1.9 1"/>
<line x1="388.10" y1="387.50" x2="658.34" y2="387.50" stroke="#6a6db8" stroke-width="1" stroke-dasharray="1.9 1"/>
<line x1="388.10" y1="367.50" x2="658.34" y2="367.50" stroke="#6a6db8" stroke-width="1" stroke-dasharray="1.9 1"/>
<line x1="388.10" y1="348.50" x2="658.34" y2="348.50" stroke="#6a6db8" stroke-width="1" stroke-dasharray="1.9 1"/>
<line x1="388.10" y1="328.50" x2="658.34" y2="328.50" stroke="#6a6db8" stroke-width="1" stroke-dasharray="1.9 1"/>
<line x1="388.10" y1="308.50" x2="658.34" y2="308.50" stroke="#6a6db8" stroke-width="1" stroke-dasharray="1.9 1"/>
<line x1="388.10" y1="289.50" x2="658.34" y2="289.50" stroke="#6a6db8" stroke-width="1" stroke-dasharray="1.9 1"/>
<rect x="405.15" y="484.12" width="2.22" height="1.33" fill="#f47870" stroke="#c0857c" stroke-width="0.7"/>
<rect x="407.37" y="482.08" width="2.22" height="3.37" fill="#f47870" stroke="#c0857c" stroke-width="0.7"/>
<rect x="409.59" y="479.03" width="2.22" height="6.42" fill="#f47870" stroke="#c0857c" stroke-width="0.7"/>
<rect x="411.81" y="466.65" width="2.22" height="18.80" fill="#f47870" stroke="#c0857c" stroke-width="0.7"/>
<rect x="414.03" y="451.65" width="2.22" height="33.80" fill="#f47870" stroke="#c0857c" stroke-width="0.7"/>
<rect x="416.25" y="433.82" width="2.22" height="51.63" fill="#f47870" stroke="#c0857c" stroke-width="0.7"/>
<rect x="418.47" y="408.91" width="2.22" height="76.54" fill="#f47870" stroke="#c0857c" stroke-width="0.7"/>
<rect x="420.69" y="399.90" width="2.22" height="85.55" fill="#2a40f0" stroke="#6870bc" stroke-width="0.8"/>
<rect x="422.92" y="369.27" width="2.22" height="116.18" fill="#2a40f0" stroke="#6870bc" stroke-width="0.8"/>
<rect x="425.14" y="348.08" width="2.22" height="137.37" fill="#2a40f0" stroke="#6870bc" stroke-width="0.8"/>
<rect x="427.36" y="351.33" width="2.22" height="134.12" fill="#2a40f0" stroke="#6870bc" stroke-width="0.8"/>
<rect x="429.58" y="333.98" width="2.22" height="151.47" fill="#2a40f0" stroke="#6870bc" stroke-width="0.8"/>
<rect x="431.80" y="315.06" width="2.22" height="170.39" fill="#2a40f0" stroke="#6870bc" stroke-width="0.8"/>
<rect x="434.02" y="311.14" width="2.22" height="174.31" fill="#2a40f0" stroke="#6870bc" stroke-width="0.8"/>
<rect x="436.24" y="313.10" width="2.22" height="172.35" fill="#2a40f0" stroke="#6870bc" stroke-width="0.8"/>
<rect x="438.46" y="315.06" width="2.22" height="170.39" fill="#2a40f0" stroke="#6870bc" stroke-width="0.8"/>
<rect x="440.68" y="316.24" width="2.22" height="169.21" fill="#2a40f0" stroke="#6870bc" stroke-width="0.8"/>
<rect x="442.90" y="333.86" width="2.22" height="151.59" fill="#2a40f0" stroke="#6870bc" stroke-width="0.8"/>
<rect x="445.12" y="345.61" width="2.22" height="139.84" fill="#2a40f0" stroke="#6870bc" stroke-width="0.8"/>
<rect x="447.35" y="339.35" width="2.22" height="146.10" fill="#2a40f0" stroke="#6870bc" stroke-width="0.8"/>
<rect x="449.57" y="349.92" width="2.22" height="135.53" fill="#2a40f0" stroke="#6870bc" stroke-width="0.8"/>
<rect x="451.79" y="354.62" width="2.22" height="130.83" fill="#2a40f0" stroke="#6870bc" stroke-width="0.8"/>
<rect x="454.01" y="374.60" width="2.22" height="110.85" fill="#2a40f0" stroke="#6870bc" stroke-width="0.8"/>
<rect x="456.23" y="376.17" width="2.22" height="109.28" fill="#2a40f0" stroke="#6870bc" stroke-width="0.8"/>
<rect x="458.45" y="390.27" width="2.22" height="95.18" fill="#2a40f0" stroke="#6870bc" stroke-width="0.8"/>
<rect x="460.67" y="389.48" width="2.22" height="95.97" fill="#2a40f0" stroke="#6870bc" stroke-width="0.8"/>
<rect x="462.89" y="401.00" width="2.22" height="84.45" fill="#2a40f0" stroke="#6870bc" stroke-width="0.8"/>
<rect x="465.11" y="407.11" width="2.22" height="78.34" fill="#2a40f0" stroke="#6870bc" stroke-width="0.8"/>
<rect x="467.34" y="417.80" width="2.22" height="67.65" fill="#2a40f0" stroke="#6870bc" stroke-width="0.8"/>
<rect x="469.56" y="424.74" width="2.22" height="60.71" fill="#2a40f0" stroke="#6870bc" stroke-width="0.8"/>
<rect x="471.78" y="429.05" width="2.22" height="56.40" fill="#2a40f0" stroke="#6870bc" stroke-width="0.8"/>
<rect x="474.00" y="430.81" width="2.22" height="54.64" fill="#2a40f0" stroke="#6870bc" stroke-width="0.8"/>
<rect x="476.22" y="436.64" width="2.22" height="48.81" fill="#2a40f0" stroke="#6870bc" stroke-width="0.8"/>
<rect x="478.44" y="444.32" width="2.22" height="41.13" fill="#2a40f0" stroke="#6870bc" stroke-width="0.8"/>
<rect x="480.66" y="440.80" width="2.22" height="44.65" fill="#2a40f0" stroke="#6870bc" stroke-width="0.8"/>
<rect x="482.88" y="444.32" width="2.22" height="41.13" fill="#2a40f0" stroke="#6870bc" stroke-width="0.8"/>
<rect x="485.10" y="453.02" width="2.22" height="32.43" fill="#2a40f0" stroke="#6870bc" stroke-width="0.8"/>
<rect x="487.32" y="455.01" width="2.22" height="30.44" fill="#2a40f0" stroke="#6870bc" stroke-width="0.8"/>
<rect x="489.55" y="459.60" width="2.22" height="25.85" fill="#2a40f0" stroke="#6870bc" stroke-width="0.8"/>
<rect x="491.77" y="458.03" width="2.22" height="27.42" fill="#2a40f0" stroke="#6870bc" stroke-width="0.8"/>
<rect x="493.99" y="463.75" width="2.22" height="21.70" fill="#2a40f0" stroke="#6870bc" stroke-width="0.8"/>
<rect x="496.21" y="457.25" width="2.22" height="28.20" fill="#2a40f0" stroke="#6870bc" stroke-width="0.8"/>
<rect x="498.43" y="463.75" width="2.22" height="21.70" fill="#2a40f0" stroke="#6870bc" stroke-width="0.8"/>
<rect x="500.65" y="463.75" width="2.22" height="21.70" fill="#2a40f0" stroke="#6870bc" stroke-width="0.8"/>
<rect x="502.87" y="470.72" width="2.22" height="14.73" fill="#2a40f0" stroke="#6870bc" stroke-width="0.8"/>
<rect x="505.09" y="468.84" width="2.22" height="16.61" fill="#2a40f0" stroke="#6870bc" stroke-width="0.8"/>
<rect x="507.31" y="473.54" width="2.22" height="11.91" fill="#2a40f0" stroke="#6870bc" stroke-width="0.8"/>
<rect x="509.53" y="474.36" width="2.22" height="11.09" fill="#2a40f0" stroke="#6870bc" stroke-width="0.8"/>
<rect x="511.75" y="471.23" width="2.22" height="14.22" fill="#2a40f0" stroke="#6870bc" stroke-width="0.8"/>
<rect x="513.98" y="474.13" width="2.22" height="11.32" fill="#2a40f0" stroke="#6870bc" stroke-width="0.8"/>
<rect x="516.20" y="476.05" width="2.22" height="9.40" fill="#2a40f0" stroke="#6870bc" stroke-width="0.8"/>
<rect x="518.42" y="479.22" width="2.22" height="6.23" fill="#2a40f0" stroke="#6870bc" stroke-width="0.8"/>
<rect x="520.64" y="471.82" width="2.22" height="13.63" fill="#2a40f0" stroke="#6870bc" stroke-width="0.8"/>
<rect x="522.86" y="479.22" width="2.22" height="6.23" fill="#2a40f0" stroke="#6870bc" stroke-width="0.8"/>
<rect x="525.08" y="478.63" width="2.22" height="6.82" fill="#2a40f0" stroke="#6870bc" stroke-width="0.8"/>
<rect x="527.30" y="479.50" width="2.22" height="5.95" fill="#2a40f0" stroke="#6870bc" stroke-width="0.8"/>
<rect x="529.52" y="473.97" width="2.22" height="11.48" fill="#f47870" stroke="#c0857c" stroke-width="0.7"/>
<rect x="531.74" y="476.95" width="2.22" height="8.50" fill="#f47870" stroke="#c0857c" stroke-width="0.7"/>
<rect x="533.97" y="475.27" width="2.22" height="10.18" fill="#f47870" stroke="#c0857c" stroke-width="0.7"/>
<rect x="536.19" y="479.22" width="2.22" height="6.23" fill="#f47870" stroke="#c0857c" stroke-width="0.7"/>
<rect x="538.41" y="479.07" width="2.22" height="6.38" fill="#f47870" stroke="#c0857c" stroke-width="0.7"/>
<rect x="540.63" y="479.07" width="2.22" height="6.38" fill="#f47870" stroke="#c0857c" stroke-width="0.7"/>
<rect x="542.85" y="479.97" width="2.22" height="5.48" fill="#f47870" stroke="#c0857c" stroke-width="0.7"/>
<rect x="545.07" y="478.28" width="2.22" height="7.17" fill="#f47870" stroke="#c0857c" stroke-width="0.7"/>
<rect x="547.29" y="480.98" width="2.22" height="4.47" fill="#f47870" stroke="#c0857c" stroke-width="0.7"/>
<rect x="549.51" y="482.67" width="2.22" height="2.78" fill="#f47870" stroke="#c0857c" stroke-width="0.7"/>
<rect x="551.73" y="482.08" width="2.22" height="3.37" fill="#f47870" stroke="#c0857c" stroke-width="0.7"/>
<rect x="553.95" y="481.14" width="2.22" height="4.31" fill="#f47870" stroke="#c0857c" stroke-width="0.7"/>
<rect x="556.18" y="482.36" width="2.22" height="3.09" fill="#f47870" stroke="#c0857c" stroke-width="0.7"/>
<rect x="558.40" y="482.67" width="2.22" height="2.78" fill="#f47870" stroke="#c0857c" stroke-width="0.7"/>
<rect x="560.62" y="481.14" width="2.22" height="4.31" fill="#f47870" stroke="#c0857c" stroke-width="0.7"/>
<rect x="562.84" y="481.92" width="2.22" height="3.53" fill="#f47870" stroke="#c0857c" stroke-width="0.7"/>
<rect x="565.06" y="481.92" width="2.22" height="3.53" fill="#f47870" stroke="#c0857c" stroke-width="0.7"/>
<rect x="567.28" y="482.08" width="2.22" height="3.37" fill="#f47870" stroke="#c0857c" stroke-width="0.7"/>
<rect x="569.50" y="482.67" width="2.22" height="2.78" fill="#f47870" stroke="#c0857c" stroke-width="0.7"/>
<rect x="571.72" y="481.14" width="2.22" height="4.31" fill="#f47870" stroke="#c0857c" stroke-width="0.7"/>
<rect x="573.94" y="482.08" width="2.22" height="3.37" fill="#f47870" stroke="#c0857c" stroke-width="0.7"/>
<rect x="576.16" y="481.73" width="2.22" height="3.72" fill="#f47870" stroke="#c0857c" stroke-width="0.7"/>
<rect x="578.38" y="481.92" width="2.22" height="3.53" fill="#f47870" stroke="#c0857c" stroke-width="0.7"/>
<rect x="580.61" y="484.24" width="2.22" height="1.21" fill="#f47870" stroke="#c0857c" stroke-width="0.7"/>
<rect x="582.83" y="483.30" width="2.22" height="2.15" fill="#f47870" stroke="#c0857c" stroke-width="0.7"/>
<rect x="585.05" y="484.24" width="2.22" height="1.21" fill="#f47870" stroke="#c0857c" stroke-width="0.7"/>
<rect x="587.27" y="485.18" width="2.22" height="0.27" fill="#f47870" stroke="#c0857c" stroke-width="0.7"/>
<rect x="589.49" y="483.30" width="2.22" height="2.15" fill="#f47870" stroke="#c0857c" stroke-width="0.7"/>
<rect x="591.71" y="483.30" width="2.22" height="2.15" fill="#f47870" stroke="#c0857c" stroke-width="0.7"/>
<rect x="593.93" y="484.71" width="2.22" height="0.74" fill="#f47870" stroke="#c0857c" stroke-width="0.7"/>
<rect x="596.15" y="484.51" width="2.22" height="0.94" fill="#f47870" stroke="#c0857c" stroke-width="0.7"/>
<rect x="598.37" y="484.27" width="2.22" height="1.18" fill="#f47870" stroke="#c0857c" stroke-width="0.7"/>
<rect x="600.60" y="483.49" width="2.22" height="1.96" fill="#f47870" stroke="#c0857c" stroke-width="0.7"/>
<rect x="602.82" y="483.02" width="2.22" height="2.43" fill="#f47870" stroke="#c0857c" stroke-width="0.7"/>
<rect x="605.04" y="484.27" width="2.22" height="1.18" fill="#f47870" stroke="#c0857c" stroke-width="0.7"/>
<rect x="607.26" y="483.30" width="2.22" height="2.15" fill="#f47870" stroke="#c0857c" stroke-width="0.7"/>
<rect x="609.48" y="484.27" width="2.22" height="1.18" fill="#f47870" stroke="#c0857c" stroke-width="0.7"/>
<rect x="611.70" y="483.77" width="2.22" height="1.68" fill="#f47870" stroke="#c0857c" stroke-width="0.7"/>
<rect x="613.92" y="483.02" width="2.22" height="2.43" fill="#f47870" stroke="#c0857c" stroke-width="0.7"/>
<rect x="616.14" y="483.02" width="2.22" height="2.43" fill="#f47870" stroke="#c0857c" stroke-width="0.7"/>
<rect x="618.36" y="484.51" width="2.22" height="0.94" fill="#f47870" stroke="#c0857c" stroke-width="0.7"/>
<rect x="620.58" y="484.71" width="2.22" height="0.74" fill="#f47870" stroke="#c0857c" stroke-width="0.7"/>
<rect x="622.81" y="484.51" width="2.22" height="0.94" fill="#f47870" stroke="#c0857c" stroke-width="0.7"/>
<rect x="625.03" y="483.02" width="2.22" height="2.43" fill="#f47870" stroke="#c0857c" stroke-width="0.7"/>
<rect x="627.25" y="484.51" width="2.22" height="0.94" fill="#f47870" stroke="#c0857c" stroke-width="0.7"/>
<rect x="629.47" y="484.27" width="2.22" height="1.18" fill="#f47870" stroke="#c0857c" stroke-width="0.7"/>
<rect x="631.69" y="483.96" width="2.22" height="1.49" fill="#f47870" stroke="#c0857c" stroke-width="0.7"/>
<rect x="633.91" y="484.71" width="2.22" height="0.74" fill="#f47870" stroke="#c0857c" stroke-width="0.7"/>
<rect x="636.13" y="484.90" width="2.22" height="0.55" fill="#f47870" stroke="#c0857c" stroke-width="0.7"/>
<rect x="638.35" y="484.90" width="2.22" height="0.55" fill="#f47870" stroke="#c0857c" stroke-width="0.7"/>
<rect x="640.57" y="484.90" width="2.22" height="0.55" fill="#f47870" stroke="#c0857c" stroke-width="0.7"/>
<rect x="642.79" y="484.90" width="2.22" height="0.55" fill="#f47870" stroke="#c0857c" stroke-width="0.7"/>
<rect x="645.02" y="484.90" width="2.22" height="0.55" fill="#f47870" stroke="#c0857c" stroke-width="0.7"/>
<rect x="647.24" y="484.90" width="2.22" height="0.55" fill="#f47870" stroke="#c0857c" stroke-width="0.7"/>
<rect x="649.46" y="484.90" width="2.22" height="0.55" fill="#f47870" stroke="#c0857c" stroke-width="0.7"/>
<rect x="651.68" y="484.71" width="2.22" height="0.74" fill="#f47870" stroke="#c0857c" stroke-width="0.7"/>
<rect x="653.90" y="484.51" width="2.22" height="0.94" fill="#f47870" stroke="#c0857c" stroke-width="0.7"/>
<rect x="656.12" y="483.96" width="2.22" height="1.49" fill="#f47870" stroke="#c0857c" stroke-width="0.7"/>
<line x1="389.50" y1="289.50" x2="389.50" y2="485.50" stroke="#888a92" stroke-width="1"/>
<line x1="389.50" y1="485.50" x2="658.34" y2="485.50" stroke="#888a92" stroke-width="1"/>
<line x1="386.10" y1="485.50" x2="389.60" y2="485.50" stroke="#888a92" stroke-width="1"/>
<text x="382.80" y="488.11" font-size="7.0" text-anchor="end" fill="#262626">0</text>
<line x1="386.10" y1="466.50" x2="389.60" y2="466.50" stroke="#888a92" stroke-width="1"/>
<text x="382.80" y="468.47" font-size="7.0" text-anchor="end" fill="#262626">50</text>
<line x1="386.10" y1="446.50" x2="389.60" y2="446.50" stroke="#888a92" stroke-width="1"/>
<text x="382.80" y="448.83" font-size="7.0" text-anchor="end" fill="#262626">100</text>
<line x1="386.10" y1="427.50" x2="389.60" y2="427.50" stroke="#888a92" stroke-width="1"/>
<text x="382.80" y="429.19" font-size="7.0" text-anchor="end" fill="#262626">150</text>
<line x1="386.10" y1="407.50" x2="389.60" y2="407.50" stroke="#888a92" stroke-width="1"/>
<text x="382.80" y="409.55" font-size="7.0" text-anchor="end" fill="#262626">200</text>
<line x1="386.10" y1="387.50" x2="389.60" y2="387.50" stroke="#888a92" stroke-width="1"/>
<text x="382.80" y="389.91" font-size="7.0" text-anchor="end" fill="#262626">250</text>
<line x1="386.10" y1="367.50" x2="389.60" y2="367.50" stroke="#888a92" stroke-width="1"/>
<text x="382.80" y="370.27" font-size="7.0" text-anchor="end" fill="#262626">300</text>
<line x1="386.10" y1="348.50" x2="389.60" y2="348.50" stroke="#888a92" stroke-width="1"/>
<text x="382.80" y="350.63" font-size="7.0" text-anchor="end" fill="#262626">350</text>
<line x1="386.10" y1="328.50" x2="389.60" y2="328.50" stroke="#888a92" stroke-width="1"/>
<text x="382.80" y="330.99" font-size="7.0" text-anchor="end" fill="#262626">400</text>
<line x1="386.10" y1="308.50" x2="389.60" y2="308.50" stroke="#888a92" stroke-width="1"/>
<text x="382.80" y="311.35" font-size="7.0" text-anchor="end" fill="#262626">450</text>
<line x1="386.10" y1="289.50" x2="389.60" y2="289.50" stroke="#888a92" stroke-width="1"/>
<text x="382.80" y="291.71" font-size="7.0" text-anchor="end" fill="#262626">500</text>
<line x1="389.50" y1="485.45" x2="389.50" y2="489.45" stroke="#888a92" stroke-width="1"/>
<line x1="416.50" y1="485.45" x2="416.50" y2="489.45" stroke="#888a92" stroke-width="1"/>
<line x1="442.50" y1="485.45" x2="442.50" y2="489.45" stroke="#888a92" stroke-width="1"/>
<line x1="469.50" y1="485.45" x2="469.50" y2="489.45" stroke="#888a92" stroke-width="1"/>
<line x1="496.50" y1="485.45" x2="496.50" y2="489.45" stroke="#888a92" stroke-width="1"/>
<line x1="522.50" y1="485.45" x2="522.50" y2="489.45" stroke="#888a92" stroke-width="1"/>
<line x1="549.50" y1="485.45" x2="549.50" y2="489.45" stroke="#888a92" stroke-width="1"/>
<line x1="576.50" y1="485.45" x2="576.50" y2="489.45" stroke="#888a92" stroke-width="1"/>
<line x1="602.50" y1="485.45" x2="602.50" y2="489.45" stroke="#888a92" stroke-width="1"/>
<line x1="629.50" y1="485.45" x2="629.50" y2="489.45" stroke="#888a92" stroke-width="1"/>
<line x1="656.50" y1="485.45" x2="656.50" y2="489.45" stroke="#888a92" stroke-width="1"/>
<text x="390.71" y="503.50" font-size="9.9" text-anchor="middle" fill="#262626" stroke="#262626" stroke-width="0.08" textLength="38.08" lengthAdjust="spacingAndGlyphs">-6.22E-7</text>
<text x="457.34" y="503.50" font-size="9.9" text-anchor="middle" fill="#262626" stroke="#262626" stroke-width="0.08" textLength="34.71" lengthAdjust="spacingAndGlyphs">8.47E-6</text>
<text x="523.97" y="503.50" font-size="9.9" text-anchor="middle" fill="#262626" stroke="#262626" stroke-width="0.08" textLength="34.71" lengthAdjust="spacingAndGlyphs">1.76E-5</text>
<text x="590.60" y="503.50" font-size="9.9" text-anchor="middle" fill="#262626" stroke="#262626" stroke-width="0.08" textLength="34.71" lengthAdjust="spacingAndGlyphs">2.66E-5</text>
<text x="657.23" y="503.50" font-size="9.9" text-anchor="middle" fill="#262626" stroke="#262626" stroke-width="0.08" textLength="34.71" lengthAdjust="spacingAndGlyphs">3.57E-5</text>
<line x1="421.00" y1="289.50" x2="421.00" y2="485.45" stroke="#98b0de" stroke-width="1"/>
<line x1="527.50" y1="289.50" x2="527.50" y2="485.45" stroke="#98b0de" stroke-width="1"/>
<rect x="392.50" y="298.50" width="79.00" height="21.00" fill="#fff" stroke="#7f8fa8" stroke-width="1"/>
<text x="399.40" y="312.10" font-size="9.5" font-weight="bold" fill="#222" textLength="54.80" lengthAdjust="spacingAndGlyphs">5% = 3.47E-6</text>
<rect x="460.50" y="367.50" width="85.00" height="19.00" fill="#fff" stroke="#7f8fa8" stroke-width="1"/>
<text x="467.10" y="380.10" font-size="9.5" font-weight="bold" fill="#222" textLength="60.40" lengthAdjust="spacingAndGlyphs">95% = 1.84E-5</text>
<text x="512.80" y="273.80" font-size="12" font-weight="bold" text-anchor="middle" fill="#1a1a1a" textLength="55.2" lengthAdjust="spacingAndGlyphs">TCR-Child</text>
<text transform="translate(365.00,387.60) rotate(-90)" font-size="10.6" font-weight="bold" text-anchor="middle" fill="#1a1a1a" textLength="50.5" lengthAdjust="spacingAndGlyphs">Frequency</text>
<line x1="0" y1="0.5" x2="685" y2="0.5" stroke="#a9b7a0" stroke-width="1"/>
<line x1="0.5" y1="0" x2="0.5" y2="513" stroke="#a9b7a0" stroke-width="1"/>
<line x1="342.5" y1="0" x2="342.5" y2="513" stroke="#a4b09c" stroke-width="1"/>
<line x1="0" y1="254.5" x2="685" y2="254.5" stroke="#a4b09c" stroke-width="1"/>
</svg>
</body></html>
